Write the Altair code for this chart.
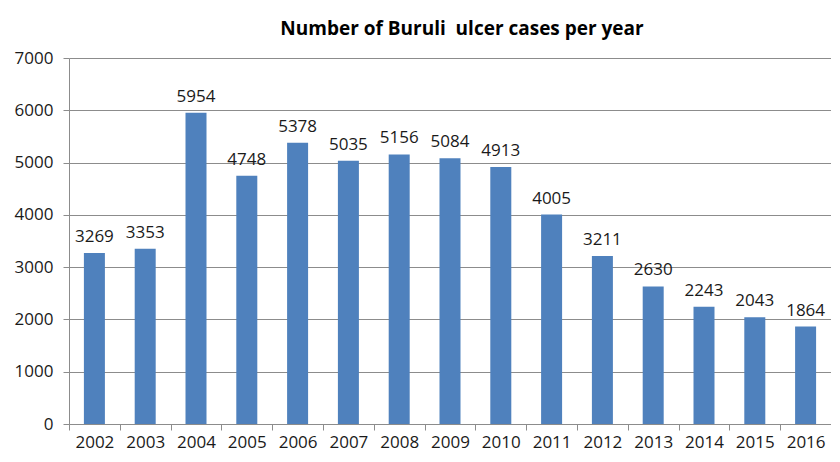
import altair as alt
import pandas as pd

years = ["2002", "2003", "2004", "2005", "2006", "2007", "2008", "2009",
         "2010", "2011", "2012", "2013", "2014", "2015", "2016"]
cases = [3269, 3353, 5954, 4748, 5378, 5035, 5156, 5084, 4913, 4005,
         3211, 2630, 2243, 2043, 1864]
y_ticks = [0, 1000, 2000, 3000, 4000, 5000, 6000, 7000]
title_text = "Number of Buruli\u00a0 ulcer cases per year"

df = pd.DataFrame({"year": years, "cases": cases})

FONT = "Open Sans"
GREY = "#8c8c8c"
TXT = "#1a1a1a"

x = alt.X("year:N", sort=years, title=None,
          scale=alt.Scale(paddingInner=0, paddingOuter=0),
          axis=alt.Axis(labelAngle=0, labelFont=FONT, labelFontSize=17,
                        labelColor=TXT, labelPadding=4, tickBand="extent",
                        tickSize=6, tickColor=GREY, domainColor=GREY,
                        grid=False))
y = alt.Y("cases:Q", title=None,
          scale=alt.Scale(domain=[0, 7000], nice=False),
          axis=alt.Axis(values=y_ticks, format="d", labelFont=FONT,
                        labelFontSize=17, labelColor=TXT, labelPadding=10,
                        tickSize=6, tickColor=GREY, domainColor=GREY,
                        gridColor=GREY, grid=True))

base = alt.Chart(df)
bars = base.mark_bar(color="#4F81BD", size=21).encode(x=x, y=y)
labels = base.mark_text(baseline="bottom", dy=-7, font=FONT, fontSize=17,
                        color=TXT).encode(x=x, y=y, text="cases:Q")

chart = (bars + labels).properties(
    width=762, height=366,
    title=alt.TitleParams(title_text,
                          font=FONT, fontSize=19, fontWeight="bold",
                          color="#000000", anchor="middle", dx=12, offset=10),
    autosize=alt.AutoSizeParams(type="none"),
    padding={"left": 61, "top": 50, "right": 0, "bottom": 34},
).configure_view(stroke=None)

chart.save("out.html", embed_options={"renderer": "svg", "actions": False})
